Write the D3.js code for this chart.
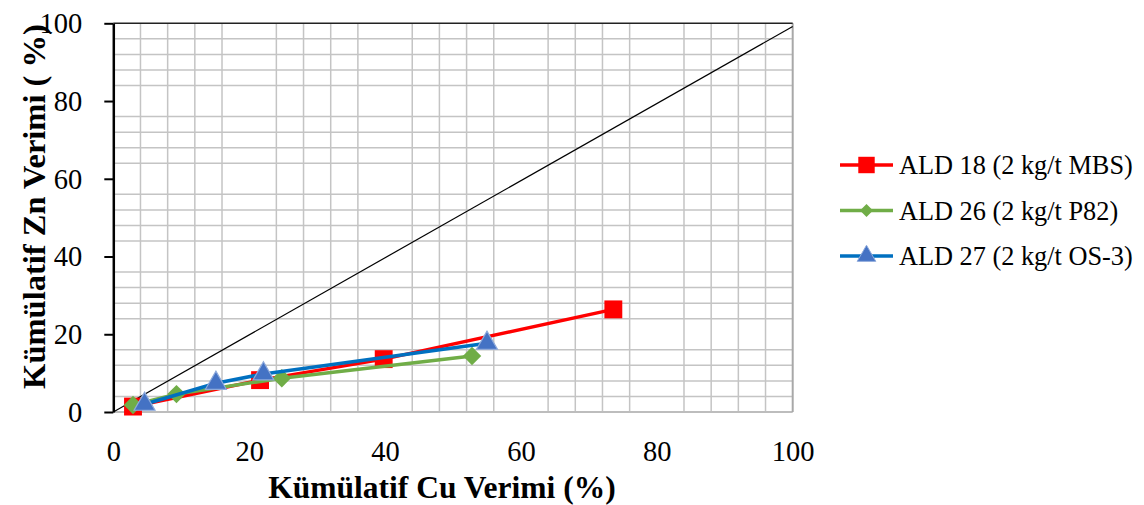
<!DOCTYPE html>
<html>
<head>
<meta charset="utf-8">
<script src="https://cdn.jsdelivr.net/npm/d3@7"></script>
<style>
  body { margin: 0; background: #fff; }
  svg text { font-family: "Liberation Serif", "Times New Roman", Times, serif; }
</style>
</head>
<body>
<svg id="chart" width="1144" height="505" viewBox="0 0 1144 505"></svg>
<script>
// values
const ald18X = [2.9, 21.6, 39.8, 73.6];
const ald18Y = [1.4, 8.2, 13.6, 26.4];
const ald26X = [2.9, 9.3, 24.8, 52.8];
const ald26Y = [1.8, 4.6, 8.7, 14.4];
const ald27X = [4.6, 15.1, 22.1, 55.0];
const ald27Y = [2.0, 7.4, 9.8, 17.7];
const diagX = [0, 100];
const diagY = [0, 99.2];
const seriesNames = ["ALD 18 (2 kg/t MBS)", "ALD 26 (2 kg/t P82)", "ALD 27 (2 kg/t OS-3)"];
const tickValues = [0, 20, 40, 60, 80, 100];

const svg = d3.select("#chart");

const x = d3.scaleLinear().domain([0, 100]).range([113.3, 792.7]);
const y = d3.scaleLinear().domain([0, 100]).range([412, 23.3]);

// minor grid every 4, majors are not drawn
const minor = d3.range(4, 100, 4).filter(v => v % 20 !== 0);
const grid = svg.append("g");
grid.selectAll(".vg").data(minor).enter().append("line")
    .attr("x1", d => x(d)).attr("x2", d => x(d))
    .attr("y1", y(100)).attr("y2", y(0))
    .attr("stroke", "#c4c4c4").attr("stroke-width", 1.5);
grid.selectAll(".hg").data(minor).enter().append("line")
    .attr("x1", x(0)).attr("x2", x(100))
    .attr("y1", d => y(d)).attr("y2", d => y(d))
    .attr("stroke", "#c4c4c4").attr("stroke-width", 1.5);

// plot border
svg.append("line").attr("x1", x(0)).attr("x2", x(100)).attr("y1", y(0)).attr("y2", y(0))
    .attr("stroke", "#bdbdbd").attr("stroke-width", 2);
svg.append("line").attr("x1", x(100)).attr("x2", x(100)).attr("y1", y(0)).attr("y2", y(100))
    .attr("stroke", "#a8a8a8").attr("stroke-width", 2);
svg.append("line").attr("x1", x(0)).attr("x2", x(100)).attr("y1", y(100)).attr("y2", y(100))
    .attr("stroke", "#222").attr("stroke-width", 1.5);

// diagonal reference
const line = d3.line().x(d => x(d[0])).y(d => y(d[1]));
svg.append("path")
    .datum(d3.zip(diagX, diagY))
    .attr("d", line)
    .attr("fill", "none").attr("stroke", "#000").attr("stroke-width", 1.2);

// y axis
const yAxis = svg.append("g")
    .attr("transform", `translate(${x(0)},0)`)
    .call(d3.axisLeft(y).tickValues(tickValues).tickSize(9).tickPadding(22).tickSizeOuter(0));
yAxis.attr("font-family", null);
yAxis.select(".domain").attr("stroke", "#000").attr("stroke-width", 2.5);
yAxis.selectAll(".tick line").attr("stroke", "#000").attr("stroke-width", 2);
yAxis.selectAll("text").attr("font-size", 28.5).attr("fill", "#000").attr("dy", "0.33em");

// x axis labels only
const xAxis = svg.append("g")
    .attr("transform", `translate(0,${y(0)})`)
    .call(d3.axisBottom(x).tickValues(tickValues).tickSize(0).tickPadding(29));
xAxis.attr("font-family", null);
xAxis.select(".domain").remove();
xAxis.selectAll("text").attr("font-size", 28.5).attr("fill", "#000");

// axis titles
svg.append("text")
    .attr("x", 442).attr("y", 498)
    .attr("text-anchor", "middle")
    .attr("font-size", 31.5).attr("font-weight", "bold")
    .text("Kümülatif Cu Verimi (%)");
svg.append("text")
    .attr("transform", "translate(45,206.5) rotate(-90)")
    .attr("text-anchor", "middle")
    .attr("font-size", 32.5).attr("font-weight", "bold")
    .text("Kümülatif Zn Verimi ( %)");

const series = [
  { name: seriesNames[0], xs: ald18X, ys: ald18Y, color: "#ff0000", symbol: d3.symbolSquare, size: 320, legendSize: 270, fill: "#ff0000", stroke: "none", rot: 0 },
  { name: seriesNames[1], xs: ald26X, ys: ald26Y, color: "#70ad47", symbol: d3.symbolSquare, size: 170, legendSize: 85, fill: "#70ad47", stroke: "none", rot: 45 },
  { name: seriesNames[2], xs: ald27X, ys: ald27Y, color: "#0070c0", symbol: d3.symbolTriangle, size: 190, legendSize: 150, fill: "#4472c4", stroke: "#8eaadb", rot: 0 }
];

series.forEach((s, i) => {
  const pts = d3.zip(s.xs, s.ys);
  svg.append("path")
      .datum(pts)
      .attr("d", line)
      .attr("fill", "none").attr("stroke", s.color).attr("stroke-width", 3.5)
      .attr("stroke-linejoin", "round");
  svg.append("g").selectAll("path").data(pts).enter().append("path")
      .attr("d", d3.symbol().type(s.symbol).size(s.size))
      .attr("transform", d => `translate(${x(d[0])},${y(d[1])}) rotate(${s.rot})`)
      .attr("fill", s.fill).attr("stroke", s.stroke).attr("stroke-width", 1.2);

  // legend
  const ly = 165 + i * 45.5;
  const lg = svg.append("g");
  lg.append("line").attr("x1", 840).attr("x2", 893).attr("y1", ly).attr("y2", ly)
      .attr("stroke", s.color).attr("stroke-width", 3.5);
  lg.append("path")
      .attr("d", d3.symbol().type(s.symbol).size(s.legendSize))
      .attr("transform", `translate(866.5,${ly}) rotate(${s.rot})`)
      .attr("fill", s.fill).attr("stroke", s.stroke).attr("stroke-width", 1);
  lg.append("text").attr("x", 899).attr("y", ly).attr("dy", "0.35em")
      .attr("font-size", 26.3).text(s.name);
});
</script>
</body>
</html>
